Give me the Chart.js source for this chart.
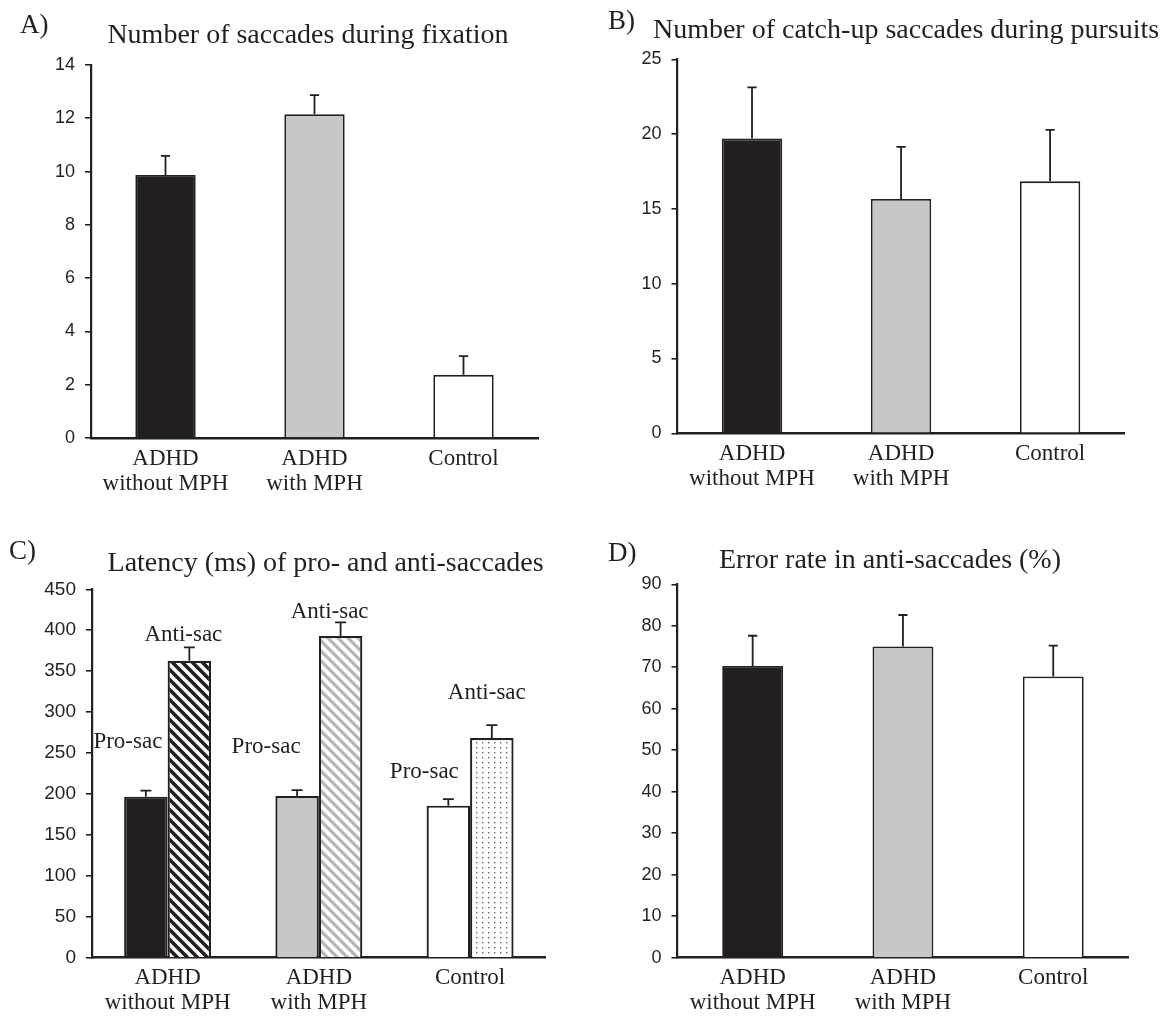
<!DOCTYPE html>
<html><head><meta charset="utf-8">
<script src="https://cdn.jsdelivr.net/npm/chart.js@4.4.0/dist/chart.umd.min.js"></script>
<style>
html,body{margin:0;padding:0;background:#fff;}
body{width:1173px;height:1017px;position:relative;overflow:hidden;}
canvas{position:absolute;}
</style></head><body>
<canvas id="cA" width="580" height="510" style="left:0;top:0"></canvas>
<canvas id="cB" width="593" height="510" style="left:580px;top:0"></canvas>
<canvas id="cC" width="580" height="477" style="left:0;top:540px"></canvas>
<canvas id="cD" width="593" height="477" style="left:580px;top:540px"></canvas>
<script>
// ---- data ----
const groups = [["ADHD","without MPH"],["ADHD","with MPH"],"Control"];
const fixationMean = [9.87, 12.15, 2.37];
const fixationSE   = [0.72, 0.72, 0.70];
const pursuitMean  = [19.70, 15.66, 16.84];
const pursuitSE    = [3.43, 3.48, 3.44];
const proSacMean   = [196.7, 197.5, 185.7];
const proSacSE     = [7.3, 7.3, 8.1];
const antiSacMean  = [362.8, 393.0, 268.3];
const antiSacSE    = [16.2, 16.6, 15.9];
const errorMean    = [70.3, 75.0, 67.8];
const errorSE      = [7.3, 7.6, 7.4];
const titles = ["Number of saccades during fixation","Number of catch-up saccades during pursuits","Latency (ms) of pro- and anti-saccades","Error rate in anti-saccades (%)"];
const letters = ["A)","B)","C)","D)"];
const yMax  = [14, 25, 450, 90];
const yStep = [2, 5, 50, 10];

const INK = '#231f20', GRAY = '#c6c7c9', WHITE = '#ffffff';
const SERIF = '"Liberation Serif","Times New Roman",serif';
const SANS = '"Liberation Sans",Arial,sans-serif';

function stripes(color, lw){
  const s = 10, c = document.createElement('canvas'); c.width = s; c.height = s;
  const g = c.getContext('2d'); g.fillStyle = '#fff'; g.fillRect(0,0,s,s);
  g.strokeStyle = color; g.lineWidth = lw; g.beginPath();
  g.moveTo(-3,-3); g.lineTo(s+3,s+3);
  g.moveTo(-3,s-3); g.lineTo(3,s+3);
  g.moveTo(s-3,-3); g.lineTo(s+3,3);
  g.stroke();
  return document.createElement('canvas').getContext('2d').createPattern(c,'repeat');
}
function dots(){
  const c = document.createElement('canvas'); c.width = 6; c.height = 5;
  const g = c.getContext('2d'); g.fillStyle = '#fff'; g.fillRect(0,0,6,5);
  g.fillStyle = '#666'; g.fillRect(2,2,1.4,1.4);
  return document.createElement('canvas').getContext('2d').createPattern(c,'repeat');
}

const errPlugin = {
  id:'errbars',
  afterDatasetsDraw(chart){
    const ctx = chart.ctx, y = chart.scales.y;
    const cap = chart.options.plugins.errbars.cap;
    chart.data.datasets.forEach((ds,di)=>{
      if(!ds.se) return;
      chart.getDatasetMeta(di).data.forEach((el,i)=>{
        const top = y.getPixelForValue(ds.data[i] + ds.se[i]);
        ctx.save(); ctx.strokeStyle = INK; ctx.lineWidth = 1.8;
        ctx.beginPath(); ctx.moveTo(el.x, el.y); ctx.lineTo(el.x, top);
        ctx.moveTo(el.x-cap, top); ctx.lineTo(el.x+cap, top); ctx.stroke(); ctx.restore();
      });
    });
  }
};
const textPlugin = {
  id:'panelText',
  afterDraw(chart){
    const o = chart.options.plugins.panelText, ctx = chart.ctx;
    ctx.save(); ctx.fillStyle = INK; ctx.textBaseline = 'alphabetic';
    ctx.font = '27px ' + SERIF;
    ctx.textAlign = 'left'; ctx.fillText(o.letter, o.lx, o.ly);
    ctx.font = '28px ' + SERIF;
    ctx.textAlign = 'center'; ctx.fillText(o.title, o.tx, o.ty);
    if (o.barLabels) {
      ctx.font = '23px ' + SERIF; ctx.textBaseline = 'middle';
      o.barLabels.forEach(bl=>{
        const meta = chart.getDatasetMeta(bl.ds);
        meta.data.forEach((el,i)=>{
          ctx.fillText(bl.text, el.x + bl.dx[i], chart.scales.y.getPixelForValue(bl.y[i]));
        });
      });
    }
    ctx.restore();
  }
};

function make(id, idx, datasets, geo, extra){
  const yW = 62, xH = geo.xH;
  return new Chart(document.getElementById(id), {
    type:'bar',
    data:{ labels: groups, datasets },
    plugins:[errPlugin, textPlugin],
    options:{
      responsive:false, animation:false, devicePixelRatio:1,
      layout:{ padding:{ left: geo.left - yW, top: geo.top, right: geo.right, bottom: geo.bottom } },
      plugins:{
        legend:{display:false}, tooltip:{enabled:false}, title:{display:false},
        errbars:{ cap: geo.cap },
        panelText: Object.assign({ letter: letters[idx], title: titles[idx] }, geo.text, extra || {})
      },
      scales:{
        x:{
          grid:{ display:false },
          border:{ display:true, color:INK, width:2.6 },
          ticks:{ font:{ family:SERIF, size:23, lineHeight:1.087 }, color:INK, padding:0, maxRotation:0, autoSkip:false },
          afterFit(s){ s.height = xH; }
        },
        y:{
          min:0, max:yMax[idx],
          grid:{ drawOnChartArea:false, drawTicks:true, tickLength:6, color:INK, lineWidth:1.6 },
          border:{ display:true, color:INK, width:2.2 },
          ticks:{ stepSize:yStep[idx], font:{ family:SANS, size: geo.tickSize }, color:INK, padding:10 },
          afterFit(s){ s.width = yW; }
        }
      }
    }
  });
}

const single = (mean, se) => [{ data: mean, se: se, backgroundColor:[INK, GRAY, WHITE], borderColor:INK, borderWidth:1.8, barPercentage:0.405, categoryPercentage:1 }];

make('cA', 0, single(fixationMean, fixationSE),
  { left:91, top:65, right:580-538, bottom:12, xH:60, cap:4.6, tickSize:18,
    text:{ lx:20, ly:33, tx:308, ty:43 } });
make('cB', 1, single(pursuitMean, pursuitSE),
  { left:97.5, top:59.3, right:593-544.6, bottom:16.7, xH:60, cap:4.6, tickSize:18,
    text:{ lx:28, ly:29, tx:326, ty:38 } });
make('cC', 2, [
    { data: proSacMean, se: proSacSE, backgroundColor:[INK, GRAY, WHITE], borderColor:INK, borderWidth:2.2, barPercentage:1, categoryPercentage:0.575 },
    { data: antiSacMean, se: antiSacSE, backgroundColor:[stripes(INK,3.6), stripes('#b5b6b8',3.2), dots()], borderColor:INK, borderWidth:2.2, barPercentage:1, categoryPercentage:0.575 }
  ],
  { left:92, top:49.3, right:580-545.7, bottom:0, xH:59.3, cap:5.5, tickSize:19,
    text:{ lx:9, ly:19, tx:325.6, ty:31 } },
  { barLabels:[
      { ds:0, text:'Pro-sac', dx:[-18,-31,-24], y:[263.8,257.7,226.4] },
      { ds:1, text:'Anti-sac', dx:[-6,-11,-5], y:[394.5,421.9,323.7] }
  ]});
make('cD', 3, single(errorMean, errorSE),
  { left:97.5, top:44.3, right:593-548.4, bottom:0, xH:59.3, cap:4.6, tickSize:18,
    text:{ lx:28, ly:21, tx:310, ty:27.5 } });
</script>
</body></html>
